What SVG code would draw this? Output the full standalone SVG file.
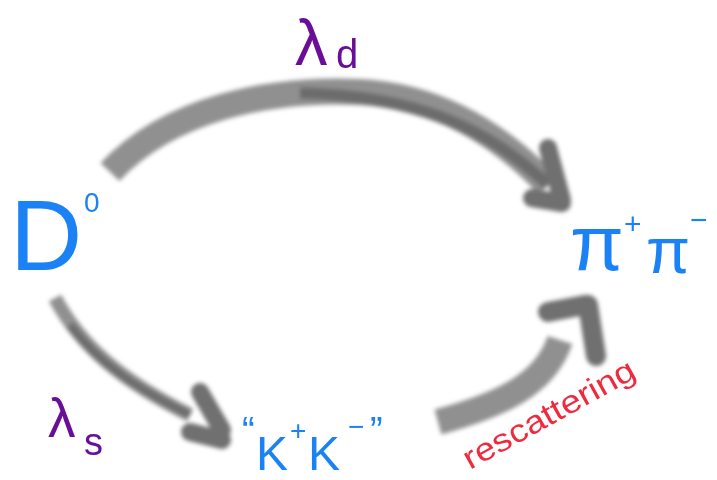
<svg xmlns="http://www.w3.org/2000/svg" width="717" height="480" viewBox="0 0 717 480">
<defs>
<filter id="blur" x="-20%" y="-20%" width="140%" height="140%"><feGaussianBlur stdDeviation="2.2"/></filter>
<style>
.body{fill:none;stroke:#8a8a8a;stroke-linecap:butt;stroke-linejoin:round;opacity:0.95}
.core{fill:none;stroke:#5c5c5c;stroke-linecap:butt;opacity:0.7}
.head{fill:none;stroke:#707070;stroke-linecap:round;stroke-linejoin:round}
.blue{fill:#1a82f5;font-family:"Liberation Sans","DejaVu Sans",sans-serif}
.purple{fill:#6a0d98;font-family:"Liberation Sans","DejaVu Sans",sans-serif}
.red{fill:#ee2b3e;font-family:"Liberation Sans","DejaVu Sans",sans-serif}
</style>
</defs>
<rect width="717" height="480" fill="#ffffff"/>
<g id="connectors" filter="url(#blur)">
  <!-- lambda_d arrow -->
  <path class="body" d="M110,172 C170,108 270,88 360,92 C440,96 500,135 548,185" stroke-width="26"/>
  <path class="core" d="M300,93 C420,96 490,130 548,185" stroke-width="12"/>
  <path class="head" d="M548,148 L562,200 M532,198 L562,203" stroke-width="18"/>
  <!-- lambda_s arrow -->
  <path class="body" d="M55,298 C80,345 120,380 190,415" stroke-width="14"/>
  <path class="core" d="M70,325 C100,365 140,390 190,415" stroke-width="8"/>
  <path class="head" d="M200,392 L222,430 M190,432 L222,440" stroke-width="18"/>
  <!-- rescattering arrow -->
  <path class="body" d="M438,422 C500,405 545,385 560,340" stroke-width="26"/>
  <path class="head" d="M548,312 L585,305 M588,305 L596,356" stroke-width="20"/>
</g>
<g id="node-D0">
  <text class="blue" x="10" y="270" font-size="100">D</text>
  <text class="blue" x="84" y="212" font-size="28">0</text>
</g>
<g id="node-pipi">
  <text class="blue" x="570" y="270" font-size="78">π</text>
  <text class="blue" x="624" y="234" font-size="30">+</text>
  <text class="blue" x="646" y="273" font-size="64">π</text>
  <text class="blue" x="690" y="230" font-size="30">−</text>
</g>
<g id="node-KK">
  <text class="blue" x="242" y="444" font-size="38">“</text>
  <text class="blue" x="256" y="470" font-size="48">K</text>
  <text class="blue" x="290" y="440" font-size="28">+</text>
  <text class="blue" x="308" y="470" font-size="48">K</text>
  <text class="blue" x="348" y="436" font-size="28">−</text>
  <text class="blue" x="370" y="444" font-size="38">”</text>
</g>
<g id="label-lambda-d">
  <text class="purple" x="295" y="65" font-size="65">λ</text>
  <text class="purple" x="336" y="68" font-size="40">d</text>
</g>
<g id="label-lambda-s">
  <text class="purple" x="48" y="437" font-size="55">λ</text>
  <text class="purple" x="84" y="455" font-size="38">s</text>
</g>
<g id="label-rescattering">
  <text class="red" x="470" y="470" font-size="32" transform="rotate(-29 470 470)" textLength="192" lengthAdjust="spacingAndGlyphs">rescattering</text>
</g>
</svg>
